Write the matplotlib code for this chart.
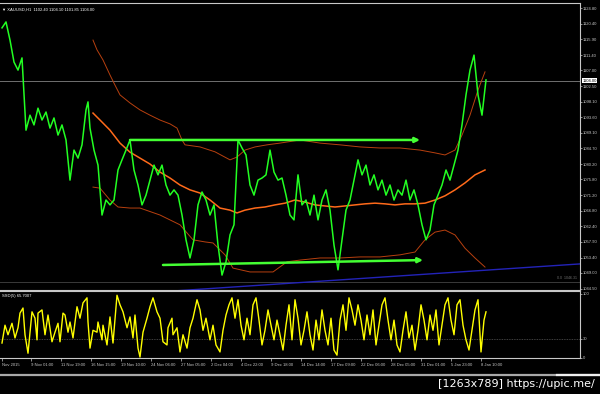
import matplotlib.pyplot as plt
from matplotlib.lines import Line2D
from matplotlib.transforms import blended_transform_factory

plt.rcParams["font.family"] = ["Liberation Sans", "DejaVu Sans"]

# XAUUSD H1 close (bar index ~ chart column)
price_x = [2, 6, 10, 14, 18, 22, 26, 30, 34, 38, 42, 46, 50, 54, 58, 62, 66, 70, 74, 78,
           82, 86, 88, 90, 94, 98, 102, 106, 110, 114, 118, 122, 126, 130, 134, 138, 142,
           146, 150, 154, 158, 162, 166, 170, 174, 178, 182, 186, 190, 194, 198, 202, 206,
           210, 214, 218, 222, 226, 230, 234, 238, 242, 246, 250, 254, 258, 262, 266, 270,
           274, 278, 282, 286, 290, 294, 298, 302, 306, 310, 314, 318, 322, 326, 330, 334,
           338, 342, 346, 350, 354, 358, 362, 366, 370, 374, 378, 382, 386, 390, 394, 398,
           402, 406, 410, 414, 418, 422, 426, 430, 434, 438, 442, 446, 450, 454, 458, 462,
           466, 470, 474, 478, 482, 486]
price = [1119.2, 1120.9, 1115.7, 1109.4, 1107.1, 1110.6, 1089.9, 1094.2, 1091.4, 1096.2,
         1092.8, 1095.1, 1090.5, 1093.4, 1088.5, 1091.4, 1087.1, 1075.6, 1084.2, 1081.9,
         1085.7, 1095.7, 1098.0, 1090.5, 1084.2, 1079.9, 1065.6, 1069.9, 1068.5, 1069.9,
         1078.5, 1081.4, 1084.2, 1087.1, 1078.5, 1074.2, 1068.5, 1071.3, 1075.6, 1079.9,
         1077.1, 1079.9, 1074.2, 1071.3, 1072.8, 1071.3, 1065.6, 1058.5, 1053.3, 1058.5,
         1068.5, 1072.2, 1069.9, 1065.6, 1068.5, 1057.0, 1048.4, 1052.2, 1059.9, 1062.8,
         1087.1, 1084.8, 1082.8, 1074.2, 1071.3, 1075.6, 1076.2, 1077.1, 1084.2, 1077.9,
         1075.6, 1076.2, 1071.3, 1065.6, 1064.2, 1077.1, 1068.5, 1069.9, 1065.6, 1071.3,
         1064.2, 1069.9, 1072.8, 1067.0, 1057.0, 1049.9, 1058.5, 1067.0, 1069.9, 1075.6,
         1081.4, 1077.1, 1079.9, 1074.2, 1077.1, 1072.8, 1075.6, 1071.3, 1074.2, 1069.9,
         1072.8, 1071.3, 1075.6, 1069.9, 1072.8, 1068.5, 1062.8, 1058.5, 1061.3, 1068.5,
         1071.3, 1074.2, 1078.5, 1075.6, 1079.9, 1084.2, 1091.4, 1100.0, 1107.1, 1111.4,
         1100.0, 1094.2, 1104.3]

# moving average and its envelope
mid_x = [93, 100, 110, 120, 130, 140, 150, 160, 170, 180, 190, 200, 210, 220, 230, 237,
         245, 255, 265, 275, 285, 295, 305, 315, 325, 335, 345, 355, 365, 375, 385, 395,
         405, 415, 425, 435, 445, 455, 465, 475, 485]
ma_mid = [1094.8, 1092.8, 1089.9, 1086.2, 1083.6, 1081.9, 1080.2, 1077.9, 1076.2, 1074.2,
          1072.8, 1071.9, 1069.9, 1067.6, 1067.0, 1066.2, 1067.0, 1067.6, 1067.9, 1068.5,
          1069.0, 1069.9, 1069.3, 1068.5, 1068.2, 1067.9, 1068.2, 1068.5, 1068.8, 1069.0,
          1068.8, 1068.5, 1068.8, 1068.8, 1069.0, 1069.9, 1071.1, 1072.8, 1074.8, 1077.1,
          1078.5]
up_x = [93, 97, 103, 110, 115, 120, 130, 140, 150, 160, 170, 177, 182, 185, 200, 215, 230,
        237, 245, 255, 267, 280, 300, 320, 340, 360, 380, 400, 420, 435, 445, 455, 462, 470,
        478, 485]
ma_upper = [1115.7, 1112.9, 1110.0, 1105.7, 1102.8, 1100.0, 1097.7, 1095.7, 1094.2, 1092.8,
            1091.7, 1090.5, 1087.1, 1085.7, 1085.1, 1083.7, 1081.4, 1082.2, 1084.2, 1085.1,
            1085.7, 1086.2, 1087.1, 1086.2, 1085.7, 1085.1, 1084.8, 1084.8, 1084.2, 1083.4,
            1082.8, 1084.2, 1088.5, 1094.2, 1101.4, 1106.6]
low_x = [93, 100, 110, 118, 130, 140, 160, 180, 193, 205, 213, 225, 233, 250, 273, 287,
         300, 320, 340, 360, 380, 400, 415, 425, 435, 445, 455, 465, 475, 485]
ma_lower = [1073.6, 1073.3, 1069.9, 1067.9, 1067.6, 1067.6, 1065.6, 1062.8, 1058.5, 1057.9,
            1057.6, 1054.2, 1050.4, 1049.3, 1049.3, 1052.2, 1052.7, 1053.3, 1053.3, 1053.6,
            1053.6, 1054.2, 1055.0, 1058.5, 1060.7, 1061.3, 1059.9, 1056.1, 1053.3, 1050.7]

# hand drawn objects
top_arrow_x = [130, 420]
top_arrow_y = [1087.1, 1087.1]
bot_arrow_x = [163, 423]
bot_arrow_y = [1051.3, 1052.7]
trend_x = [150, 580]
trend_y = [1043.4, 1051.6]
bid = 1104.00
fib_zero = 1046.31

# oscillator
osc_x = [2, 5, 8, 12, 15, 18, 20, 23, 25, 28, 32, 35, 37, 38, 42, 45, 48, 52, 55, 58, 60,
         63, 65, 68, 70, 73, 77, 80, 83, 87, 88, 90, 93, 97, 98, 102, 103, 107, 110, 113,
         117, 120, 123, 127, 130, 133, 135, 138, 140, 143, 147, 150, 153, 157, 160, 163,
         167, 168, 172, 173, 177, 180, 183, 187, 190, 193, 197, 200, 203, 206, 210, 213,
         216, 220, 223, 226, 229, 232, 235, 238, 241, 244, 247, 250, 253, 256, 259, 262,
         265, 268, 271, 274, 277, 280, 283, 286, 289, 292, 295, 298, 301, 304, 307, 310,
         313, 316, 319, 322, 325, 328, 331, 334, 337, 340, 343, 346, 349, 352, 355, 358,
         361, 364, 367, 370, 373, 376, 379, 382, 385, 388, 391, 394, 397, 400, 403, 406,
         409, 412, 415, 418, 421, 424, 427, 430, 433, 436, 439, 442, 445, 448, 451, 454,
         457, 460, 463, 466, 469, 472, 475, 478, 481, 484, 486]
osc = [23, 51, 36, 54, 31, 47, 70, 78, 36, 7, 72, 62, 28, 70, 75, 36, 67, 25, 40, 54, 25,
       70, 67, 40, 56, 31, 80, 62, 86, 94, 56, 15, 43, 40, 56, 28, 51, 20, 64, 23,
       98, 83, 72, 47, 64, 31, 67, 15, 1, 40, 62, 80, 94, 72, 62, 25,
       20, 47, 62, 36, 47, 9, 36, 15, 47, 62, 91, 75, 43, 62, 28, 51,
       20, 9, 43, 67, 83, 94, 62, 91, 51, 28, 62, 36, 83, 94, 59, 20,
       43, 75, 51, 28, 59, 36, 12, 51, 83, 28, 91, 62, 20, 43, 72, 36,
       12, 59, 28, 75, 43, 20, 62, 12, 4, 59, 83, 43, 94, 75, 51, 83,
       59, 28, 67, 36, 75, 20, 51, 83, 94, 59, 28, 59, 20, 9, 43, 72,
       31, 51, 12, 43, 83, 59, 28, 67, 43, 75, 20, 51, 83, 94, 59, 36,
       83, 91, 51, 28, 12, 43, 75, 91, 9, 59, 72]
osc_level = 30

price_ticks = [1124.80, 1120.40, 1115.90, 1111.40, 1107.00, 1102.50, 1098.10, 1093.60,
               1089.10, 1084.70, 1080.20, 1075.80, 1071.20, 1066.80, 1062.40, 1057.90,
               1053.40, 1049.00, 1044.50]
date_pos = [2, 31, 61, 91, 121, 151, 181, 211, 241, 271, 301, 331, 361, 391, 421, 451, 481]
date_labels = ["Nov 2015", "9 Nov 01:00", "11 Nov 19:00", "16 Nov 15:00", "19 Nov 10:00",
               "24 Nov 06:00", "27 Nov 05:00", "2 Dec 04:00", "4 Dec 22:00", "9 Dec 18:00",
               "14 Dec 14:00", "17 Dec 09:00", "22 Dec 06:00", "28 Dec 05:00",
               "31 Dec 01:00", "5 Jan 23:00", "8 Jan 10:00"]

FG = "#c8c8c8"
W, H = 600, 394
SMALL = 3.0


def style_axes(ax):
    ax.set_facecolor("black")
    ax.spines["left"].set_visible(False)
    for side in ("top", "right", "bottom"):
        ax.spines[side].set_color(FG)
        ax.spines[side].set_linewidth(0.8)
    ax.yaxis.tick_right()
    ax.tick_params(axis="y", colors=FG, labelsize=SMALL, length=1.5, width=0.5, pad=0.6)
    ax.set_xlim(0, 580)


def main():
    fig = plt.figure(figsize=(W / 100, H / 100), dpi=100, facecolor="black")
    ax = fig.add_axes([0, 1 - 290 / H, 580 / W, 287 / H])
    ax2 = fig.add_axes([0, 1 - 358 / H, 580 / W, 67 / H])
    style_axes(ax)
    style_axes(ax2)

    # main price panel
    ax.set_ylim(1044.13, 1126.32)
    ax.set_yticks(price_ticks)
    ax.set_yticklabels([f"{t:.2f}" for t in price_ticks])
    ax.set_xticks([])
    ax.axhline(bid, color="#707070", lw=0.7)
    ax.axhline(fib_zero, color="#3a3a3a", lw=0.7)
    ax.text(577, fib_zero + 0.6, f"0.0  {fib_zero:.2f}", color="#707070", fontsize=2.6,
            ha="right", va="bottom")
    ax.plot(trend_x, trend_y, color="#2323b8", lw=1.0)
    ax.plot(up_x, ma_upper, color="#b8400f", lw=0.7)
    ax.plot(low_x, ma_lower, color="#b8400f", lw=0.7)
    ax.plot(mid_x, ma_mid, color="#ff6a1a", lw=1.1)
    ax.plot(price_x, price, color="#22ff22", lw=1.1)
    for xs, ys in ((top_arrow_x, top_arrow_y), (bot_arrow_x, bot_arrow_y)):
        ax.annotate("", xy=(xs[1], ys[1]), xytext=(xs[0], ys[0]),
                    arrowprops=dict(arrowstyle="-|>", color="#44ff33", lw=1.8,
                                    mutation_scale=7, shrinkA=0, shrinkB=0))
    trans = blended_transform_factory(ax.transAxes, ax.transData)
    ax.text(1.004, bid, f"{bid:.2f}", transform=trans, fontsize=SMALL, color="black",
            va="center", ha="left",
            bbox=dict(boxstyle="square,pad=0.12", fc="white", ec="none"))
    ax.text(0.004, 0.985, "\u25bc XAUUSD,H1  1102.40 1104.10 1101.85 1104.00",
            transform=ax.transAxes, color="white", fontsize=SMALL, va="top", ha="left",
            family=["Liberation Sans", "DejaVu Sans"])

    # oscillator panel
    ax2.set_ylim(-0.5, 104.7)
    ax2.set_yticks([100, osc_level, 0])
    ax2.set_yticklabels(["100", str(osc_level), "0"])
    ax2.axhline(osc_level, color="#555555", lw=0.6, ls=(0, (1, 1)))
    ax2.plot(osc_x, osc, color="#ffff00", lw=1.0)
    ax2.text(0.004, 0.96, "SSD(5) 65.7007", transform=ax2.transAxes, color="white",
             fontsize=SMALL, va="top", ha="left")
    ax2.set_xticks(date_pos)
    ax2.set_xticklabels(date_labels, ha="left")
    ax2.tick_params(axis="x", colors=FG, labelsize=SMALL, length=2, width=0.5, pad=1.5)

    # window frame and watermark
    fig.add_artist(Line2D([0, 1], [1 - 375 / H] * 2, color="#a8a8a8", lw=1.6))
    fig.add_artist(Line2D([557 / W, 1], [1 - 375 / H] * 2, color="#f0f0f0", lw=1.6))
    fig.text(595 / W, 1 - 384 / H, "[1263x789] https://upic.me/", color="white",
             fontsize=8, ha="right", va="center", family="DejaVu Sans")

    fig.savefig("out.png", dpi=100, facecolor="black")
    plt.close(fig)


if __name__ == "__main__":
    main()
